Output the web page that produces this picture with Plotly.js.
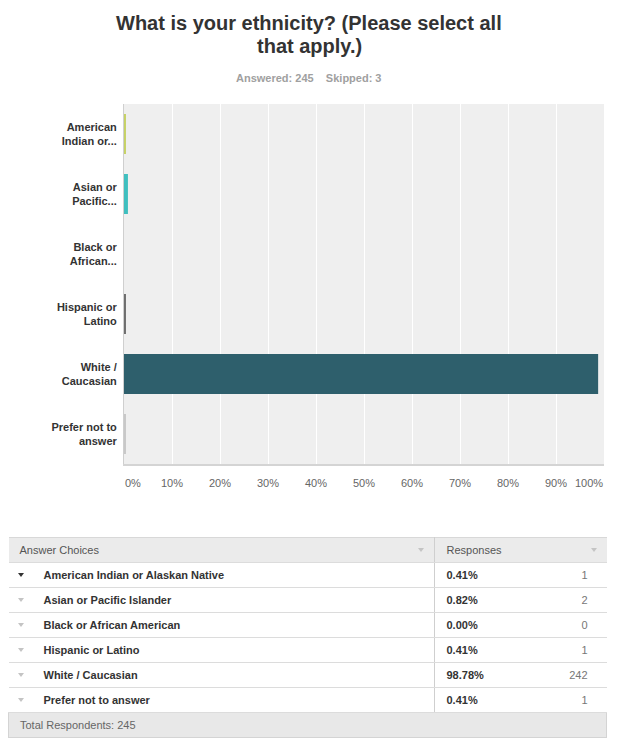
<!DOCTYPE html>
<html>
<head>
<meta charset="utf-8">
<script src="https://cdn.plot.ly/plotly-3.0.1.min.js"></script>
<style>
  html, body { margin: 0; padding: 0; background: #fff; }
  #wrap { position: relative; width: 619px; height: 742px; overflow: hidden; }
  #chart { position: absolute; left: 0; top: 0; width: 619px; height: 742px; }
  #tbl { position: absolute; left: 8px; top: 537px; width: 598px; border-collapse: collapse;
         font-family: "Liberation Sans", Arial, sans-serif; font-size: 11px; table-layout: fixed; }
  #tbl td { padding: 0; height: 24px; border-bottom: 1px solid #dcdcdc; position: relative; white-space: nowrap; }
  #tbl tr.head td { background: #ebebeb; color: #555; border-top: 1px solid #d8d8d8; height: 24px; }
  #tbl td.c1 { width: 425px; border-right: 1px solid #cfcfcf; }
  #tbl td.c2 { width: 172px; }
  .lbl { position: absolute; left: 35px; top: 50%; transform: translateY(-50%); font-weight: bold; color: #333; }
  .hlbl { position: absolute; left: 11px; top: 50%; transform: translateY(-50%); color: #555; }
  .pct { position: absolute; left: 12px; top: 50%; transform: translateY(-50%); font-weight: bold; color: #333; }
  .cnt { position: absolute; right: 19px; top: 50%; transform: translateY(-50%); color: #777; }
  .tri { position: absolute; top: 50%; width: 0; height: 0; margin-top: -2px;
         border-left: 3.5px solid transparent; border-right: 3.5px solid transparent; border-top: 4px solid #c4c4c4; }
  .tri.dark { border-top-color: #333; }
  #tbl tr.foot td { background: #e8e8e8; color: #666; border: 1px solid #d4d4d4; }
</style>
</head>
<body>
<div id="wrap">
  <div id="chart"></div>
  <table id="tbl"></table>
</div>
<script>
// ---- data ----
const questionTitle1 = "What is your ethnicity? (Please select all";
const questionTitle2 = "that apply.)";
const answered = 245;
const skipped = 3;
const chartLabels = ["American<br>Indian or...", "Asian or<br>Pacific...", "Black or<br>African...",
                     "Hispanic or<br>Latino", "White /<br>Caucasian", "Prefer not to<br>answer"];
const choiceLabels = ["American Indian or Alaskan Native", "Asian or Pacific Islander", "Black or African American",
                      "Hispanic or Latino", "White / Caucasian", "Prefer not to answer"];
const percents = [0.41, 0.82, 0.00, 0.41, 98.78, 0.41];
const counts = [1, 2, 0, 1, 242, 1];
const barColors = ["#c6d165", "#3fbfbf", "#e0644c", "#6e6e6e", "#2e5f6c", "#c8c8c8"];
const tickValues = [0, 10, 20, 30, 40, 50, 60, 70, 80, 90, 100];
const tickLabels = ["0%", "10%", "20%", "30%", "40%", "50%", "60%", "70%", "80%", "90%", "100%"];

const FONT = '"Liberation Sans", Arial, sans-serif';
const last = tickLabels.length - 1;

// inner labels are drawn by the axis; the two edge labels are kept inside the plot
// (first left-aligned, last right-aligned) like the original
const tickText = tickLabels.map((t, i) => (i === 0 || i === last) ? '' : t);

const trace = {
  type: 'bar',
  orientation: 'h',
  x: percents,
  y: chartLabels,
  marker: { color: barColors },
  hoverinfo: 'none'
};

function py(p) { return (464 - p) / 360; } // pixel row -> paper y (plot area 104..464)

const tickFont = { family: FONT, size: 11, color: '#666' };

const layout = {
  width: 619, height: 742,
  margin: { l: 124, r: 15, t: 104, b: 278, pad: 0 },
  paper_bgcolor: '#ffffff',
  plot_bgcolor: '#efefef',
  bargap: 1/3,
  showlegend: false,
  font: { family: FONT, size: 11, color: '#666' },
  xaxis: {
    range: [0, 100],
    tickvals: tickValues,
    ticktext: tickText,
    showgrid: true, gridcolor: '#ffffff', gridwidth: 1,
    zeroline: false,
    showline: true, linecolor: '#d4d4d4', linewidth: 2,
    ticks: 'outside', ticklen: 8, tickcolor: 'rgba(0,0,0,0)',
    tickfont: tickFont,
    fixedrange: true
  },
  yaxis: {
    categoryorder: 'array',
    categoryarray: chartLabels.slice().reverse(),
    autorange: true,
    showgrid: false, zeroline: false,
    showline: true, linecolor: '#cfcfcf', linewidth: 1,
    ticks: 'outside', ticklen: 4, tickcolor: 'rgba(0,0,0,0)',
    tickfont: { family: FONT, size: 11, color: '#333', weight: 'bold' },
    fixedrange: true
  },
  annotations: [
    { xref: 'paper', yref: 'paper', x: (309 - 124) / 480, y: py(23), xanchor: 'center', yanchor: 'middle',
      text: '<b>' + questionTitle1 + '</b>', showarrow: false,
      font: { family: FONT, size: 20, color: '#333' } },
    { xref: 'paper', yref: 'paper', x: (309 - 124) / 480, y: py(46), xanchor: 'center', yanchor: 'middle',
      text: '<b>' + questionTitle2 + '</b>', showarrow: false,
      font: { family: FONT, size: 20, color: '#333' } },
    { xref: 'paper', yref: 'paper', x: (309 - 124) / 480, y: py(78), xanchor: 'center', yanchor: 'middle',
      text: '<b>Answered: ' + answered + '&nbsp;&nbsp;&nbsp;&nbsp;Skipped: ' + skipped + '</b>', showarrow: false,
      font: { family: FONT, size: 11, color: '#a0a0a0' } },
    { xref: 'x', yref: 'paper', x: tickValues[0], y: py(483), xanchor: 'left', yanchor: 'middle',
      text: tickLabels[0], showarrow: false, borderpad: 0, font: tickFont },
    { xref: 'x', yref: 'paper', x: tickValues[last], y: py(483), xanchor: 'right', yanchor: 'middle',
      text: tickLabels[last], showarrow: false, borderpad: 0, font: tickFont }
  ]
};

Plotly.newPlot('chart', [trace], layout, { displayModeBar: false, staticPlot: true });

// ---- summary table ----
const tbl = document.getElementById('tbl');
let html = '<tr class="head"><td class="c1"><span class="hlbl">Answer Choices</span><span class="tri" style="right:10px"></span></td>' +
           '<td class="c2"><span class="hlbl" style="left:12px">Responses</span><span class="tri" style="right:10px"></span></td></tr>';
choiceLabels.forEach((lab, i) => {
  html += '<tr><td class="c1"><span class="tri' + (i === 0 ? ' dark' : '') + '" style="left:9px"></span>' +
          '<span class="lbl">' + lab + '</span></td>' +
          '<td class="c2"><span class="pct">' + percents[i].toFixed(2) + '%</span>' +
          '<span class="cnt">' + counts[i] + '</span></td></tr>';
});
html += '<tr class="foot"><td colspan="2"><span class="hlbl" style="color:#666">Total Respondents: ' + answered + '</span></td></tr>';
tbl.innerHTML = html;
</script>
</body>
</html>
